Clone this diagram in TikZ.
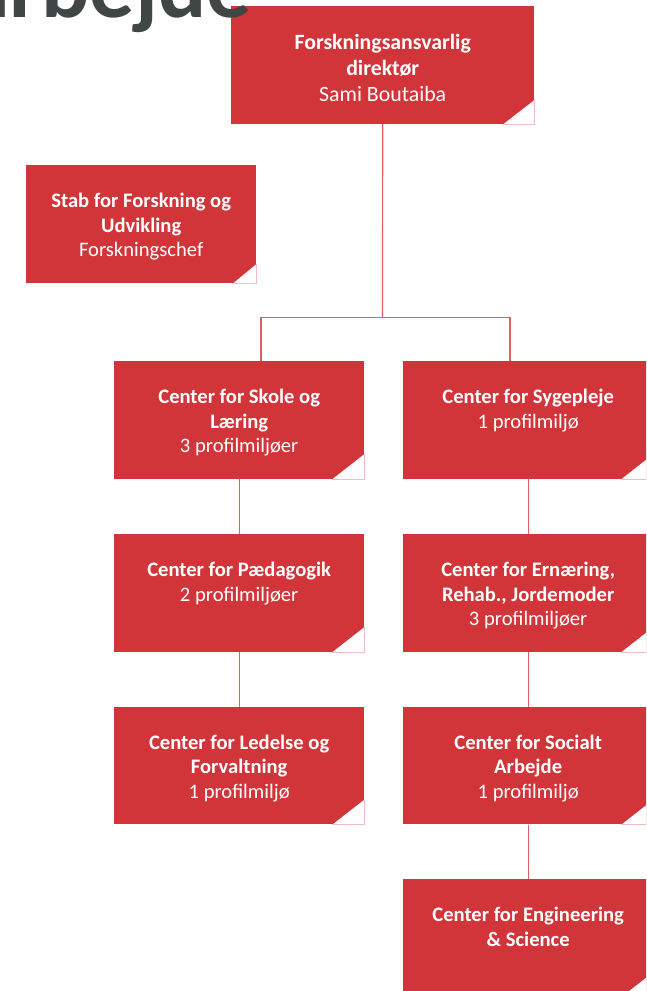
\documentclass[tikz,border=0pt]{standalone}
\usepackage{fontspec}
\setmainfont{Carlito}
\definecolor{boxred}{RGB}{209,53,57}
\definecolor{linered}{RGB}{222,95,100}
\definecolor{foldpink}{RGB}{240,190,192}
\definecolor{headgray}{RGB}{64,69,69}
\tikzset{
  orgbox/.style={fill=boxred, draw=none, inner sep=0pt, anchor=north west,
    minimum width=250pt, minimum height=117.7pt},
  boxtext/.style={text=white, align=center, inner sep=0pt,
    font=\fontsize{20.6}{24.5}\selectfont},
  boxlab/.style={label={[boxtext, anchor=north, yshift=-28pt]north:{#1}}},
  toplab/.style={label={[boxtext, font=\fontsize{21.8}{25.6}\selectfont, anchor=north, yshift=-28.5pt]north:{#1}}},
  conn/.style={draw=linered, line width=1.2pt},
  foldline/.style={draw=foldpink, line width=0.8pt}
}
\newcommand{\myfold}[3]{%
  \fill[white] ([xshift=-#2]#1.south east) -- (#1.south east) -- ([yshift=#3]#1.south east) -- cycle;
  \draw[foldline] ([yshift=#3]#1.south east) -- (#1.south east) -- ([xshift=-#2]#1.south east);}
\begin{document}
\begin{tikzpicture}[x=1pt,y=-1pt]
\useasboundingbox (0,0) rectangle (646,991);
\clip (0,0) rectangle (646,991);
\fill[white] (0,0) rectangle (646,991);

% boxes
\node[orgbox, minimum width=303pt, toplab={\textbf{Forskningsansvarlig}\\\textbf{direktør}\\Sami Boutaiba}] (dir) at (231,6) {};
\node[orgbox, minimum width=230pt, boxlab={\textbf{Stab for Forskning og}\\\textbf{Udvikling}\\Forskningschef}] (stab) at (26,165) {};
\node[orgbox, boxlab={\textbf{Center for Skole og}\\\textbf{Læring}\\3 profilmiljøer}] (skole) at (114,361) {};
\node[orgbox, boxlab={\textbf{Center for Sygepleje}\\1 profilmiljø}] (syg) at (403,361) {};
\node[orgbox, boxlab={\textbf{Center for Pædagogik}\\2 profilmiljøer}] (paed) at (114,534) {};
\node[orgbox, boxlab={\textbf{Center for Ernæring,}\\\textbf{Rehab., Jordemoder}\\3 profilmiljøer}] (ern) at (403,534) {};
\node[orgbox, boxlab={\textbf{Center for Ledelse og}\\\textbf{Forvaltning}\\1 profilmiljø}] (led) at (114,706.5) {};
\node[orgbox, boxlab={\textbf{Center for Socialt}\\\textbf{Arbejde}\\1 profilmiljø}] (soc) at (403,706.5) {};
\node[orgbox, boxlab={\textbf{Center for Engineering}\\\textbf{\& Science}}] (eng) at (403,879) {};

% folded corners
\myfold{dir}{31pt}{24pt}
\myfold{stab}{23pt}{19pt}
\myfold{skole}{32pt}{25pt}
\myfold{syg}{32pt}{25pt}
\myfold{paed}{32pt}{25pt}
\myfold{ern}{32pt}{25pt}
\myfold{led}{32pt}{25pt}
\myfold{soc}{32pt}{25pt}
\myfold{eng}{32pt}{25pt}

% connectors
\coordinate (j) at (382.5,317.7);
\coordinate (jl) at (261,317.7);
\coordinate (jr) at (510,317.7);
\draw[conn] (dir.south) -- (j);
\draw[conn] (skole.north -| jl) -- (jl) -- (jr) -- (syg.north -| jr);
\draw[conn] (skole.south) -- (paed.north);
\draw[conn] (paed.south) -- (led.north);
\draw[conn] (syg.south) -- (ern.north);
\draw[conn] (ern.south) -- (soc.north);
\draw[conn] (soc.south) -- (eng.north);

% heading (cropped)
\node[font=\fontsize{90}{90}\selectfont\bfseries, text=headgray, anchor=base east, inner sep=0pt] (head) at (252,17) {arbejde};
\end{tikzpicture}
\end{document}
